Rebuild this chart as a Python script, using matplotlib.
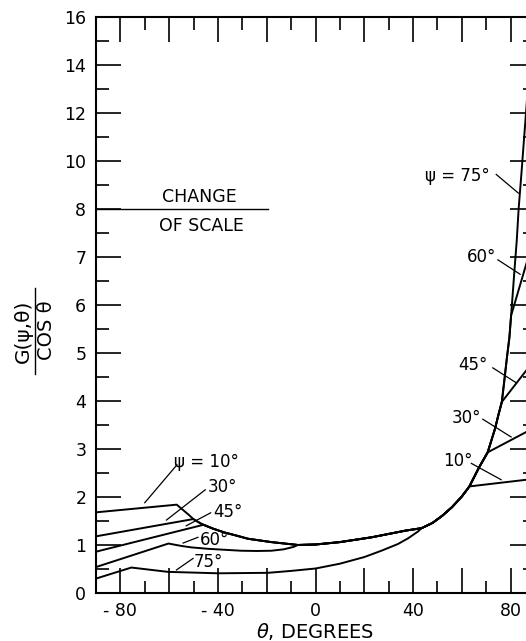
import numpy as np
import matplotlib
matplotlib.use("Agg")
import matplotlib.pyplot as plt
from matplotlib.lines import Line2D

# theta in degrees, G(psi, theta)/cos(theta)
theta_10 = [-90, -56.9, -52, -50.1, -46.8, -42, -37.3, -32, -27.7, -18.1, -7.2, 0, 10, 23, 37,
            43.5, 48, 52, 56, 60, 63.1, 90]
g_10 = [1.67, 1.83, 1.62, 1.53, 1.43, 1.33, 1.25, 1.18, 1.12, 1.05, 0.99, 1.0, 1.05, 1.15, 1.29,
        1.34, 1.45, 1.6, 1.78, 2.0, 2.21, 2.37]

theta_30 = [-90, -50.1, -46.8, -42, -37.3, -32, -27.7, -18.1, -7.2, 0, 10, 23, 37,
            43.5, 48, 52, 56, 60, 63.1, 67, 70.6, 90]
g_30 = [1.17, 1.53, 1.43, 1.33, 1.25, 1.18, 1.12, 1.05, 0.99, 1.0, 1.05, 1.15, 1.29,
        1.34, 1.45, 1.6, 1.78, 2.0, 2.21, 2.6, 2.92, 3.44]

theta_45 = [-90, -46, -42, -37.3, -32, -27.7, -18.1, -7.2, 0, 10, 23, 37,
            43.5, 48, 52, 56, 60, 63.1, 67, 70.6, 73.6, 75, 76.4, 90]
g_45 = [0.85, 1.41, 1.33, 1.25, 1.18, 1.12, 1.05, 0.99, 1.0, 1.05, 1.15, 1.29,
        1.34, 1.45, 1.6, 1.78, 2.0, 2.21, 2.6, 2.92, 3.41, 3.7, 3.97, 4.86]

theta_60 = [-90, -60.3, -55, -50.9, -44, -37.3, -30.4, -24, -18.1, -13, -9, -7.2, 0, 10, 23, 37,
            43.5, 48, 52, 56, 60, 63.1, 67, 70.6, 73.6, 75, 76.4, 77.5, 78.5, 79.5, 80.2, 90]
g_60 = [0.53, 1.02, 0.97, 0.94, 0.91, 0.89, 0.87, 0.865, 0.87, 0.9, 0.95, 0.99, 1.0, 1.05, 1.15, 1.29,
        1.34, 1.45, 1.6, 1.78, 2.0, 2.21, 2.6, 2.92, 3.41, 3.7, 3.97, 4.45, 4.9, 5.31, 5.77, 7.46]

theta_75 = [-90, -75.5, -60.5, -40, -19.5, -10, 0, 10, 20.1, 27, 33.8, 38, 42, 43.5,
            48, 52, 56, 60, 63.1, 67, 70.6, 73.6, 75, 76.4, 77.5, 78.5, 79.5, 80.5, 81.5, 82.5,
            83.3, 84.5, 85.5, 86.5, 87.5, 88.5, 89.3]
g_75 = [0.29, 0.52, 0.43, 0.40, 0.41, 0.45, 0.50, 0.6, 0.74, 0.87, 1.01, 1.13, 1.27, 1.34,
        1.45, 1.6, 1.78, 2.0, 2.21, 2.6, 2.92, 3.41, 3.7, 3.97, 4.45, 4.9, 5.31, 5.97, 6.66, 7.32,
        8.0, 9.54, 10.9, 12.24, 13.64, 15.0, 16.2]

curves = [(theta_10, g_10), (theta_30, g_30), (theta_45, g_45), (theta_60, g_60), (theta_75, g_75)]

# curve labels: text, text position, leader line ends
labels = ["ψ = 10°", "30°", "45°", "60°", "75°", "ψ = 75°", "60°", "45°", "30°", "10°"]
label_pos = [(-44.8, 2.72), (-38.2, 2.19), (-35.7, 1.68), (-41.5, 1.10), (-43.9, 0.63),
             (58.1, 9.35), (68.0, 7.0), (64.7, 4.74), (61.8, 3.63), (58.5, 2.75)]
leaders = [((-56.8, -70.0), (2.66, 1.87)), ((-45.2, -61.1), (2.14, 1.51)),
           ((-43.0, -53.0), (1.66, 1.39)), ((-48.2, -54.3), (1.15, 1.03)),
           ((-50.2, -57.0), (0.71, 0.47)),
           ((74.1, 83.2), (9.42, 8.64)), ((74.8, 83.9), (6.93, 6.63)),
           ((72.7, 82.3), (4.68, 4.37)), ((68.6, 80.2), (3.61, 3.24)),
           ((63.9, 76.1), (2.69, 2.35))]

xticks = [-80, -60, -40, -20, 0, 20, 40, 60, 80]
xticklabels = ["- 80", "", "- 40", "", "0", "", "40", "", "80"]
yticks = [0, 1, 2, 3, 4, 5, 6, 7, 8, 10, 12, 14, 16]


def fwd(y):
    y = np.asarray(y, dtype=float)
    return np.where(y <= 8, y, 8 + (y - 8) / 2)


def inv(u):
    u = np.asarray(u, dtype=float)
    return np.where(u <= 8, u, 8 + (u - 8) * 2)


fig = plt.figure(figsize=(5.26, 6.41), dpi=100)
# right spine sits just past the edge of the scanned page
ax = fig.add_axes([96 / 526, 48.5 / 641, 439 / 526, 576 / 641])
ax.set_yscale("function", functions=(fwd, inv))
ax.set_xlim(-90, 90)
ax.set_ylim(0, 16)

for t, g in curves:
    ax.plot(t, g, color="black", lw=1.4)

for txt, (tx, ty), (lx, ly) in zip(labels, label_pos, leaders):
    ax.text(tx, ty, txt, fontsize=12, ha="center", va="center")
    ax.plot(lx, ly, color="black", lw=0.9)

# change of scale marker
ax.plot([-90, -19.4], [8, 8], color="black", lw=1.0)
ax.text(-47.8, 8.5, "CHANGE", fontsize=12.5, ha="center", va="center")
ax.text(-46.8, 7.63, "OF SCALE", fontsize=12.5, ha="center", va="center")

ax.set_xticks(xticks)
ax.set_xticklabels(xticklabels)
ax.set_xticks([-70, -50, -30, -10, 10, 30, 50, 70], minor=True)
ax.set_yticks(yticks)
ax.set_yticklabels([str(v) for v in yticks])
ax.set_yticks(list(np.arange(0.5, 8, 1.0)) + [9, 11, 13, 15], minor=True)
ax.yaxis.set_minor_formatter(matplotlib.ticker.NullFormatter())

ax.tick_params(which="both", direction="in", top=True, right=True, width=1.2, labelsize=12.5)
ax.tick_params(which="major", length=18)
ax.tick_params(which="minor", length=9)
ax.tick_params(axis="x", pad=7)
ax.tick_params(axis="y", pad=7)
for s in ax.spines.values():
    s.set_linewidth(1.5)

fig.text(315 / 526, 1 - 632 / 641, r"$\theta$, DEGREES", fontsize=14, ha="center", va="center")

# y label drawn as a fraction
fig.text(23 / 526, 1 - 331 / 641, "G(ψ,θ)", fontsize=14.5, rotation=90, ha="center", va="center")
fig.text(47 / 526, 1 - 330 / 641, "COS θ", fontsize=14, rotation=90, ha="center", va="center")
fig.add_artist(Line2D([35 / 526, 35 / 526], [1 - 288 / 641, 1 - 374 / 641],
                      color="black", lw=1.0, transform=fig.transFigure))

fig.savefig("out.png", dpi=100)
